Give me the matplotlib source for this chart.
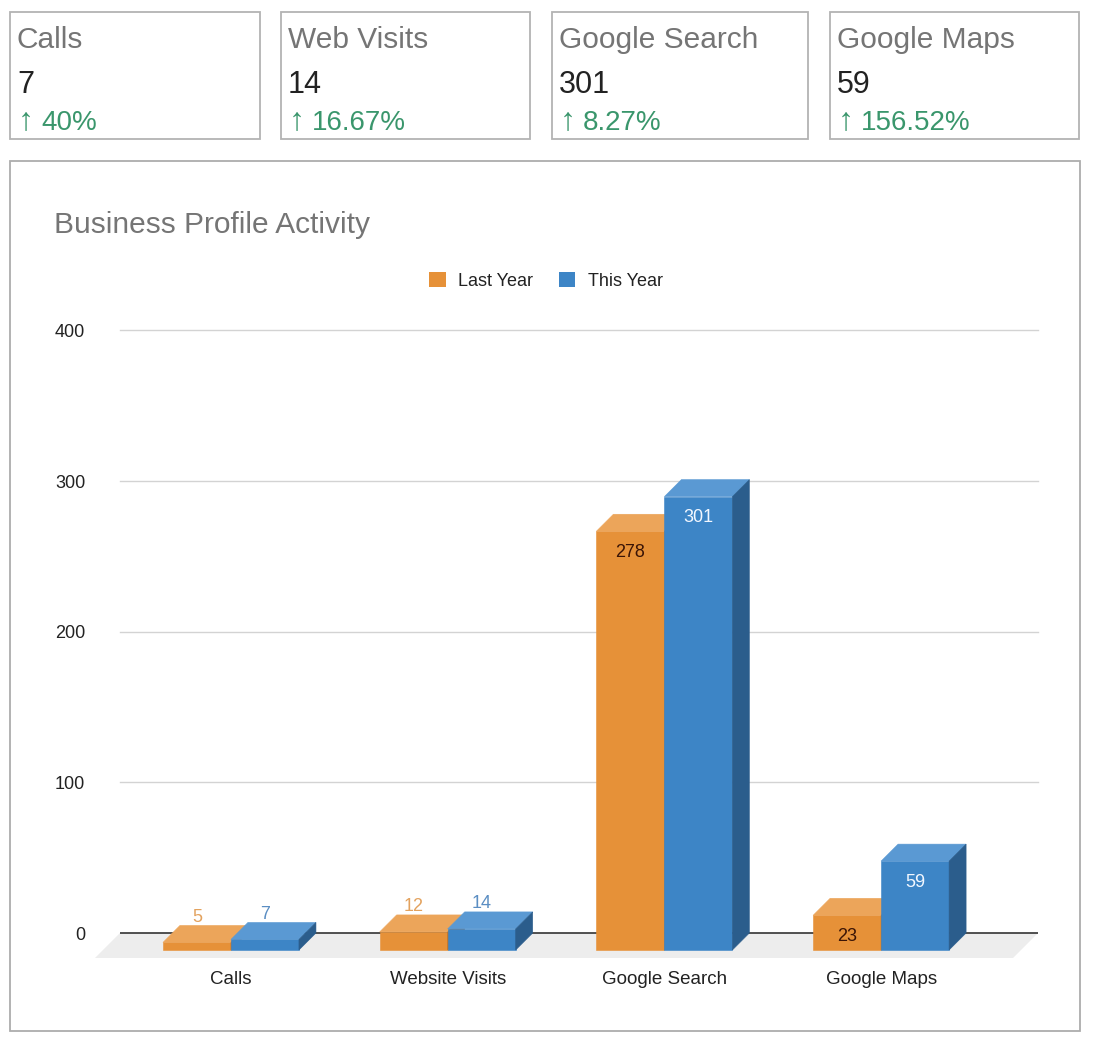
import matplotlib
matplotlib.use("Agg")
import matplotlib.pyplot as plt
from matplotlib.patches import Rectangle, Polygon, Patch

# data
categories = ["Calls", "Website Visits", "Google Search", "Google Maps"]
last_year = [5, 12, 278, 23]
this_year = [7, 14, 301, 59]
series_names = ["Last Year", "This Year"]
yticks = [0, 100, 200, 300, 400]

card_titles = ["Calls", "Web Visits", "Google Search", "Google Maps"]
card_values = ["7", "14", "301", "59"]
card_changes = ["40%", "16.67%", "8.27%", "156.52%"]

plt.rcParams['font.family'] = ['Liberation Sans', 'DejaVu Sans']

W, H = 1094, 1046
fig = plt.figure(figsize=(W / 100, H / 100), dpi=100)


def fx(x):
    return x / W


def fy(y):
    return 1 - y / H


GREEN = "#3a966c"
ORANGE = ("#e69138", "#eca55a", "#b8702a")   # front, top, side
BLUE = ("#3d85c6", "#5a99d3", "#2b5d8c")

# KPI cards
card_left = [10, 281, 552, 830]
card_right = [260, 530, 808, 1079]
for i in range(len(card_titles)):
    l, r = card_left[i], card_right[i]
    fig.patches.append(Rectangle((fx(l), fy(139)), (r - l) / W, (139 - 12) / H,
                                 transform=fig.transFigure, fill=False,
                                 ec="#b3b3b3", lw=1.3))
    fig.text(fx(l + 7), fy(48), card_titles[i], fontsize=21.5, color="#757575", va="baseline")
    fig.text(fx(l + 7), fy(93), card_values[i], fontsize=22, color="#222222", va="baseline")
    fig.text(fx(l + 8), fy(129), "\u2191", fontsize=23, color=GREEN, va="baseline")
    fig.text(fx(l + 31), fy(130), card_changes[i], fontsize=20, color=GREEN, va="baseline")

# chart frame
fig.patches.append(Rectangle((fx(10), fy(1031)), 1070 / W, 870 / H,
                             transform=fig.transFigure, fc="white",
                             ec="#adadad", lw=1.3, zorder=-1))
fig.text(fx(54), fy(233), "Business Profile Activity", fontsize=21.5, color="#757575", va="baseline")

# plot area: value 0 at y=933px, 400 at y=330.5px ; x from 120 to 1038px
px_per_val = (933 - 330.5) / 400
ymin = -22
ax_bottom = 933 - ymin * px_per_val
ax = fig.add_axes([fx(120), fy(ax_bottom), (1038 - 120) / W, (ax_bottom - 330.5) / H])
ax.patch.set_visible(False)
xl, xr = -0.512, 3.724
ax.set_xlim(xl, xr)
ax.set_ylim(ymin, 400)
px_per_cat = 918 / (xr - xl)

depth = 17
dx = depth / px_per_cat
dy = depth / px_per_val
w = 68 / px_per_cat

for s in ax.spines.values():
    s.set_visible(False)

for t in yticks[1:]:
    ax.axhline(t, color="#d3d3d3", lw=1, zorder=0, clip_on=False)

# floor
fdx = 25 / px_per_cat
fdy = 25 / px_per_val
ax.add_patch(Polygon([(xl, 0), (xr, 0), (xr - fdx, -fdy), (xl - fdx, -fdy)],
                     closed=True, fc="#ededed", ec="none", zorder=1, clip_on=False))
ax.axhline(0, color="#333333", lw=1.2, zorder=2)

xs = list(range(len(categories)))


def draw_bars(offset, values, cols, z, label_col_out, label_col_in):
    x0s = [x + offset for x in xs]
    ax.bar(x0s, [v for v in values], width=w, bottom=-dy, align="edge",
           color=cols[0], ec=cols[0], lw=0.4, zorder=z, clip_on=False)
    for x0, v in zip(x0s, values):
        x1 = x0 + w
        top = v - dy
        ax.add_patch(Polygon([(x0, top), (x1, top), (x1 + dx, v), (x0 + dx, v)],
                             fc=cols[1], ec=cols[1], lw=0.4, zorder=z, clip_on=False))
        ax.add_patch(Polygon([(x1, -dy), (x1 + dx, 0), (x1 + dx, v), (x1, top)],
                             fc=cols[2], ec=cols[2], lw=0.4, zorder=z, clip_on=False))
        if v > 20:
            ax.text(x0 + w / 2, top - 14, str(v), ha="center", va="center",
                    fontsize=13, color=label_col_in, zorder=6)
        else:
            ax.text(x0 + w / 2, v + 5.5, str(v), ha="center", va="center",
                    fontsize=13, color=label_col_out, zorder=6)


draw_bars(-w, last_year, ORANGE, 3, "#e3a25e", "#3a1406")
draw_bars(0, this_year, BLUE, 4, "#5b8ec3", "#f2f7ff")

ax.set_yticks(yticks)
ax.set_yticklabels([str(t) for t in yticks], fontsize=13, color="#222222")
ax.tick_params(axis="y", length=0, pad=25)
ax.set_xticks(xs)
ax.set_xticklabels(categories, fontsize=13.5, color="#222222")
ax.tick_params(axis="x", length=0, pad=3.5)

handles = [Patch(fc=ORANGE[0], ec="none"), Patch(fc=BLUE[0], ec="none")]
fig.legend(handles, series_names, loc="center", bbox_to_anchor=(fx(546), fy(281)),
           ncol=2, frameon=False, fontsize=13, handlelength=0.9, handleheight=0.9,
           handletextpad=0.7, columnspacing=1.4, labelcolor="#222222")

fig.savefig("out.png", dpi=100)
